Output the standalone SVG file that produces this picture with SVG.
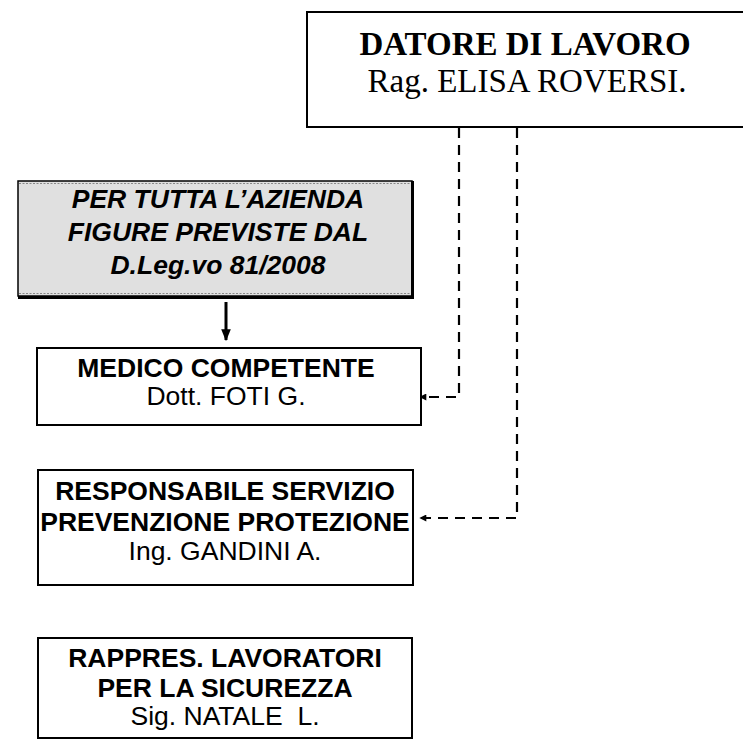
<svg xmlns="http://www.w3.org/2000/svg" width="743" height="749" viewBox="0 0 743 749">
<style>
.box{fill:#fff;stroke:#000;stroke-width:2}
.ser{font-family:"Liberation Serif","Times New Roman",serif;font-size:33px;text-anchor:middle;fill:#000}
.sans{font-family:"Liberation Sans",Arial,sans-serif;font-size:26.5px;text-anchor:middle;fill:#000}
.b{font-weight:bold}
.bi{font-weight:bold;font-style:italic}
.dash{fill:none;stroke:#000;stroke-width:2.2;stroke-dasharray:10,7}
</style>
<defs>
<marker id="ah" viewBox="0 0 10 10" refX="9" refY="5" markerWidth="8" markerHeight="7" markerUnits="userSpaceOnUse" orient="auto">
<path d="M0,0L10,5L0,10z" fill="#000"/>
</marker>
<marker id="ahs" viewBox="0 0 10 10" refX="9" refY="5" markerWidth="12" markerHeight="12" markerUnits="userSpaceOnUse" orient="auto">
<path d="M0,1L10,5L0,9z" fill="#000"/>
</marker>
</defs>
<rect width="743" height="749" fill="#fff"/>
<g id="connectors">
<path class="dash" d="M459,128V397H420" marker-end="url(#ah)"/>
<path class="dash" d="M517,128V518H420" marker-end="url(#ah)"/>
<line x1="226" y1="302" x2="226" y2="340" stroke="#000" stroke-width="3" marker-end="url(#ahs)"/>
</g>
<g id="datore">
<rect class="box" x="307" y="12" width="440" height="115"/>
<text class="ser b" x="525" y="55">DATORE DI LAVORO</text>
<text class="ser" x="527" y="92">Rag. ELISA ROVERSI.</text>
</g>
<g id="figure">
<rect x="18" y="181" width="394" height="115" fill="#e0e0e0" stroke="#000" stroke-width="1.5"/>
<line x1="19" y1="183.5" x2="411" y2="183.5" stroke="#888" stroke-width="1" stroke-dasharray="2,1.5"/>
<line x1="19" y1="293.5" x2="411" y2="293.5" stroke="#888" stroke-width="1" stroke-dasharray="2,1.5"/>
<path d="M412.5,181V297.5H18" fill="none" stroke="#000" stroke-width="3"/>
<text class="sans bi" x="218" y="208">PER TUTTA L’AZIENDA</text>
<text class="sans bi" x="218" y="241">FIGURE PREVISTE DAL</text>
<text class="sans bi" x="218" y="274">D.Leg.vo 81/2008</text>
</g>
<g id="medico">
<rect class="box" x="37" y="348" width="384" height="77"/>
<text class="sans b" x="226" y="377">MEDICO COMPETENTE</text>
<text class="sans" x="226" y="405">Dott. FOTI G.</text>
</g>
<g id="rspp">
<rect class="box" x="38" y="470" width="375" height="115"/>
<text class="sans b" x="225" y="500">RESPONSABILE SERVIZIO</text>
<text class="sans b" x="225" y="531">PREVENZIONE PROTEZIONE</text>
<text class="sans" x="225" y="560">Ing. GANDINI A.</text>
</g>
<g id="rls">
<rect class="box" x="38" y="638" width="374" height="100"/>
<text class="sans b" x="225" y="667">RAPPRES. LAVORATORI</text>
<text class="sans b" x="225" y="697">PER LA SICUREZZA</text>
<text class="sans" x="225" y="725" xml:space="preserve">Sig. NATALE  L.</text>
</g>
</svg>
